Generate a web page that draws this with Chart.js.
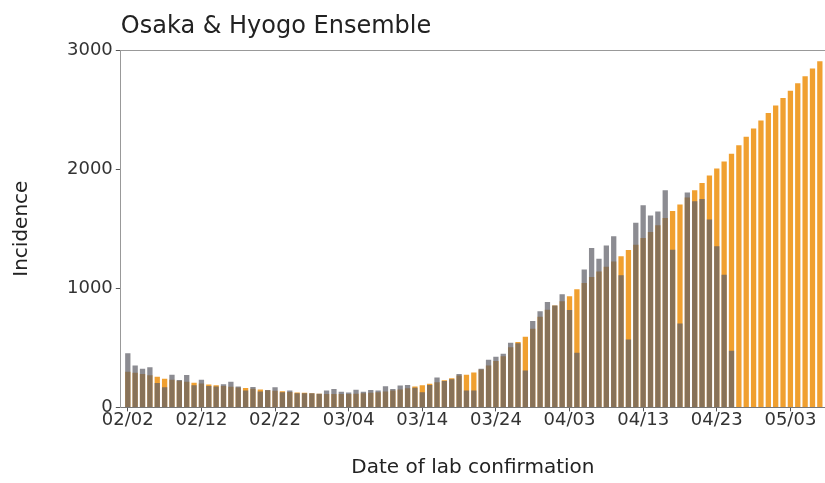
<!DOCTYPE html>
<html>
<head>
<meta charset="utf-8">
<title>Osaka & Hyogo Ensemble</title>
<script src="https://cdn.jsdelivr.net/npm/chart.js@4.4.1/dist/chart.umd.min.js"></script>
<style>
  body { margin: 0; background: #fff; }
  #wrap { width: 825px; height: 483px; }
</style>
</head>
<body>
<div id="wrap"><canvas id="incidence-chart" width="825" height="483"></canvas></div>
<script>
// Chart text
const chartTitle = 'Osaka & Hyogo Ensemble';
const yTitle = 'Incidence';
const xTitle = 'Date of lab confirmation';

// One entry per day, 02/02 .. 05/07 (2021)
const dates = [
    '02/02', '02/03', '02/04', '02/05', '02/06', '02/07', '02/08', '02/09', '02/10', '02/11',
    '02/12', '02/13', '02/14', '02/15', '02/16', '02/17', '02/18', '02/19', '02/20', '02/21',
    '02/22', '02/23', '02/24', '02/25', '02/26', '02/27', '02/28', '03/01', '03/02', '03/03',
    '03/04', '03/05', '03/06', '03/07', '03/08', '03/09', '03/10', '03/11', '03/12', '03/13',
    '03/14', '03/15', '03/16', '03/17', '03/18', '03/19', '03/20', '03/21', '03/22', '03/23',
    '03/24', '03/25', '03/26', '03/27', '03/28', '03/29', '03/30', '03/31', '04/01', '04/02',
    '04/03', '04/04', '04/05', '04/06', '04/07', '04/08', '04/09', '04/10', '04/11', '04/12',
    '04/13', '04/14', '04/15', '04/16', '04/17', '04/18', '04/19', '04/20', '04/21', '04/22',
    '04/23', '04/24', '04/25', '04/26', '04/27', '04/28', '04/29', '04/30', '05/01', '05/02',
    '05/03', '05/04', '05/05', '05/06', '05/07'
];

// Labelled ticks on the date axis
const tickDates = ['02/02', '02/12', '02/22', '03/04', '03/14', '03/24', '04/03', '04/13', '04/23', '05/03'];
const yTicks = [0, 1000, 2000, 3000];

// Observed daily incidence (grey bars)
const observed = [
    455, 352, 325, 336, 205, 170, 275, 230, 273, 185,
    232, 180, 175, 195, 215, 175, 141, 172, 133, 146,
    169, 127, 141, 118, 118, 118, 115, 141, 155, 132,
    125, 149, 132, 146, 141, 177, 155, 183, 189, 165,
    127, 189, 250, 222, 237, 280, 141, 141, 324, 400,
    425, 451, 542, 538, 310, 725, 808, 884, 856, 949,
    817, 458, 1158, 1338, 1248, 1358, 1437, 1110, 570, 1549,
    1696, 1611, 1645, 1823, 1324, 704, 1803, 1730, 1750, 1577,
    1352, 1113, 475
];

// Ensemble estimate / projection (orange bars)
const ensemble = [
    300, 290, 280, 270, 258, 240, 232, 224, 216, 206,
    200, 193, 186, 180, 174, 168, 162, 156, 150, 145,
    140, 135, 130, 126, 122, 118, 115, 113, 112, 112,
    113, 115, 118, 122, 127, 133, 141, 150, 160, 175,
    186, 198, 212, 228, 245, 268, 275, 292, 318, 352,
    390, 430, 505, 548, 592, 660, 760, 820, 855, 890,
    932, 992, 1045, 1095, 1140, 1180, 1225, 1268, 1322, 1366,
    1422, 1472, 1528, 1590, 1648, 1704, 1762, 1822, 1884, 1946,
    2005, 2065, 2130, 2200, 2272, 2342, 2408, 2472, 2535, 2597,
    2658, 2720, 2780, 2845, 2905
];

document.addEventListener('DOMContentLoaded', () => {
    const ctx = document.getElementById('incidence-chart').getContext('2d');

    Chart.defaults.font.family = '"DejaVu Sans", sans-serif';
    Chart.defaults.color = '#333';

    // title sits over the left edge of the plot, like the original
    const titlePlugin = {
        id: 'plotTitle',
        afterDraw(chart) {
            const c = chart.ctx;
            c.save();
            c.font = '24px "DejaVu Sans", sans-serif';
            c.fillStyle = '#222';
            c.textAlign = 'left';
            c.textBaseline = 'alphabetic';
            c.fillText(chartTitle, chart.chartArea.left, 33);
            c.restore();
        }
    };

    const toPoints = arr => arr.map((v, i) => ({ x: i, y: v }));

    new Chart(ctx, {
        type: 'bar',
        data: {
            datasets: [
                {
                    label: 'Observed',
                    data: toPoints(observed),
                    backgroundColor: 'rgba(96, 96, 104, 0.72)',
                    grouped: false,
                    barPercentage: 0.72,
                    categoryPercentage: 1,
                    order: 1
                },
                {
                    label: 'Ensemble',
                    data: toPoints(ensemble),
                    backgroundColor: '#F0A030',
                    grouped: false,
                    barPercentage: 0.72,
                    categoryPercentage: 1,
                    order: 2
                }
            ]
        },
        options: {
            responsive: false,
            animation: false,
            layout: { padding: { top: 50, left: 0, right: 0, bottom: 0 } },
            plugins: {
                legend: { display: false },
                tooltip: { enabled: false }
            },
            scales: {
                x: {
                    type: 'linear',
                    min: -0.95,
                    max: 94.7,
                    offset: false,
                    afterBuildTicks: axis => {
                        axis.ticks = tickDates.map(d => ({ value: dates.indexOf(d) }));
                    },
                    ticks: {
                        callback: v => dates[v],
                        autoSkip: false,
                        maxRotation: 0,
                        padding: -2,
                        color: '#333',
                        font: { size: 18 }
                    },
                    grid: { offset: false, drawOnChartArea: false, tickLength: 4, tickColor: '#555' },
                    border: { color: '#777' },
                    title: {
                        display: true,
                        text: xTitle,
                        color: '#222',
                        font: { size: 20 },
                        padding: { top: 27, bottom: 3 }
                    }
                },
                y: {
                    min: 0,
                    max: 3000,
                    afterBuildTicks: axis => {
                        axis.ticks = yTicks.map(v => ({ value: v }));
                    },
                    ticks: {
                        callback: v => String(v),
                        padding: 3,
                        color: '#333',
                        font: { size: 18 }
                    },
                    grid: {
                        // only the top frame line is drawn across the plot
                        color: c => (c.tick && c.tick.value === 3000) ? '#999' : 'rgba(0,0,0,0)',
                        tickColor: '#555',
                        tickLength: 5
                    },
                    border: { color: '#999' },
                    title: {
                        display: true,
                        text: yTitle,
                        color: '#222',
                        font: { size: 20 },
                        padding: { top: 10, bottom: 30 }
                    }
                }
            }
        },
        plugins: [titlePlugin]
    });
});
</script>
</body>
</html>
